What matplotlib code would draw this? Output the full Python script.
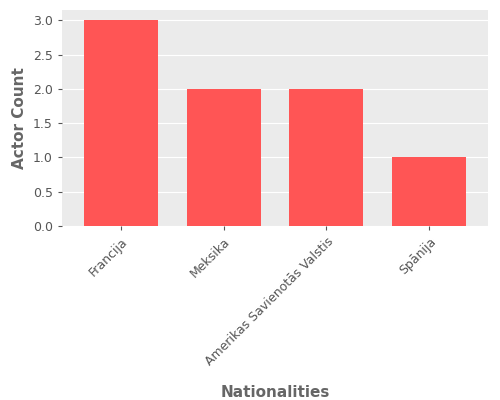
import matplotlib
matplotlib.use("Agg")
import matplotlib.pyplot as plt

nationalities = ["Francija", "Meksika", "Amerikas Savienotās Valstis", "Spānija"]
actor_counts = [3, 2, 2, 1]

fig = plt.figure(figsize=(5, 4), dpi=100)
ax = fig.add_axes([0.124, 0.435, 0.852, 0.54])
ax.set_facecolor("#EBEBEB")
for s in ax.spines.values():
    s.set_visible(False)

ax.bar(range(len(nationalities)), actor_counts, width=0.72, color="#FF5555", zorder=3)
ax.set_xlim(-0.57, 3.57)
ax.set_ylim(0, 3.15)
ax.set_yticks([0, 0.5, 1.0, 1.5, 2.0, 2.5, 3.0])
ax.set_yticklabels(["0.0", "0.5", "1.0", "1.5", "2.0", "2.5", "3.0"])
ax.grid(axis="y", color="white", linewidth=0.8, zorder=0)
ax.set_xticks(range(len(nationalities)))
ax.set_xticklabels(nationalities, rotation=45, ha="right", rotation_mode="anchor")
ax.tick_params(colors="#555555", labelsize=9, length=3)
for lbl in ax.get_xticklabels() + ax.get_yticklabels():
    lbl.set_color("#555555")

ax.set_ylabel("Actor Count", fontsize=11, fontweight="bold", color="#666666")
ax.set_xlabel("Nationalities", fontsize=11, fontweight="bold", color="#666666", labelpad=12)

fig.savefig("out.png", dpi=100)
